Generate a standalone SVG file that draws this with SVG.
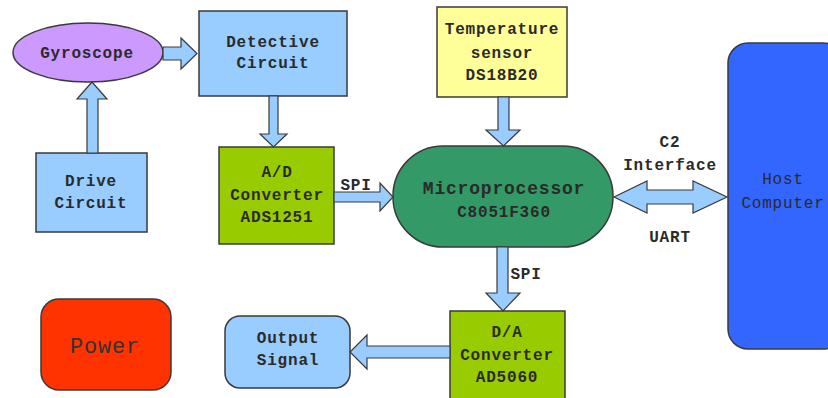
<svg xmlns="http://www.w3.org/2000/svg" width="828" height="398" viewBox="0 0 828 398">
<style>
.n{stroke:#3a3a3a;stroke-width:1.5}
.c polygon{fill:#99ccff;stroke:#3a3a3a;stroke-width:1.2;stroke-linejoin:miter}
text{font-family:"Liberation Mono","DejaVu Sans Mono",monospace;font-size:16px;font-weight:bold;fill:#2a2a2a;text-anchor:middle;letter-spacing:0.8px}
.lt{font-weight:normal}
</style>
<rect width="828" height="398" fill="#ffffff"/>
<g id="gyroscope"><ellipse class="n" cx="88" cy="52.5" rx="75" ry="29.5" fill="#cc99ff"/><text x="87" y="58">Gyroscope</text></g>
<g id="detective"><rect class="n" x="199" y="11" width="148" height="85" fill="#99ccff"/><text x="273" y="47">Detective</text><text x="273" y="68">Circuit</text></g>
<g id="drive"><rect class="n" x="36" y="153" width="111" height="79" fill="#99ccff"/><text x="91" y="186">Drive</text><text x="91" y="208">Circuit</text></g>
<g id="adc"><rect class="n" x="219" y="147" width="115" height="97" fill="#99cc00"/><text x="277" y="177">A/D</text><text x="277" y="200">Converter</text><text x="277" y="222">ADS1251</text></g>
<g id="temp"><rect class="n" x="437" y="7" width="130" height="90" fill="#ffff99"/><text x="502" y="34">Temperature</text><text x="502" y="58">sensor</text><text x="502" y="80">DS18B20</text></g>
<g id="micro"><rect class="n" x="393" y="146" width="220" height="101" rx="50" fill="#339966"/><text x="504" y="194" style="font-size:18px">Microprocessor</text><text x="504" y="217">C8051F360</text></g>
<g id="host"><rect class="n" x="728" y="43" width="115" height="306" rx="20" fill="#3366ff"/><text class="lt" x="783" y="184">Host</text><text class="lt" x="783" y="208">Computer</text></g>
<g id="dac"><rect class="n" x="450" y="311" width="115" height="100" fill="#99cc00"/><text x="507" y="337">D/A</text><text x="507" y="360">Converter</text><text x="507" y="382">AD5060</text></g>
<g id="output"><rect class="n" x="225" y="316" width="125" height="72" rx="15" fill="#99ccff"/><text x="288" y="343">Output</text><text x="288" y="365">Signal</text></g>
<g id="power"><rect class="n" x="41" y="299" width="130" height="91" rx="18" fill="#ff3300"/><text class="lt" x="105" y="353" style="font-size:22px;fill:#333">Power</text></g>
<g id="connectors" class="c">
<polygon points="163,47 181,47 181,38 197,53.5 181,69 181,60 163,60"/>
<polygon points="269,96 278,96 278,134 287,134 273.5,147 260,134 269,134"/>
<polygon points="87,153 87,99 77,99 92,82 107,99 98,99 98,153"/>
<polygon points="334,192 380,192 380,183 393,197 380,211 380,202 334,202"/>
<polygon points="498,97 509,97 509,130 520,130 503.5,146 486,130 498,130"/>
<polygon points="614,197 647,181 647,190 693,190 693,181 727,197 693,213 693,204 647,204 647,213"/>
<polygon points="497,247 508,247 508,293 520,293 503,311 486,293 497,293"/>
<polygon points="450,346 367,346 367,335 350,352 367,369 367,358 450,358"/>
<text x="356" y="190">SPI</text>
<text x="526" y="279">SPI</text>
<text x="670" y="147">C2</text>
<text x="670" y="170">Interface</text>
<text x="670" y="242">UART</text>
</g>
</svg>
